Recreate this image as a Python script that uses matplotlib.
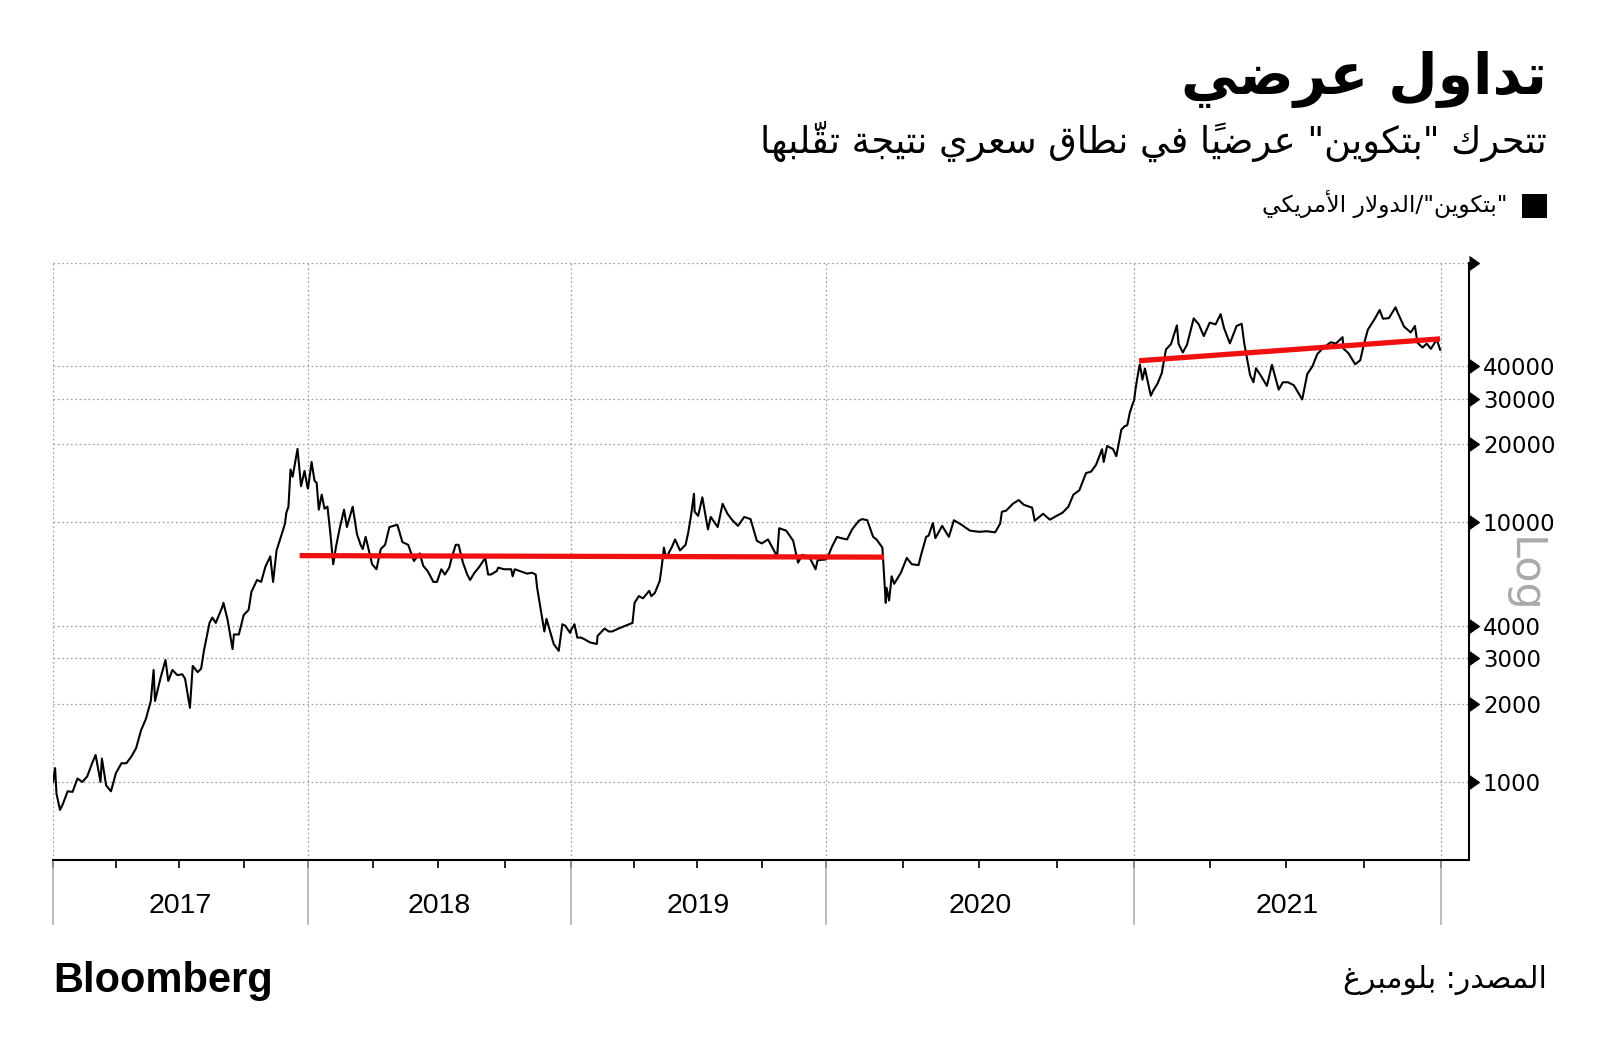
import numpy as np
import pandas as pd
import matplotlib
matplotlib.use("Agg")
import matplotlib.pyplot as plt
import matplotlib.dates as mdates
from matplotlib.ticker import FixedLocator, FixedFormatter, NullLocator, NullFormatter

# ---------------- data ----------------
dates_2017 = ["2017-01-01","2017-01-04","2017-01-06","2017-01-11","2017-01-15","2017-01-22","2017-01-29",
              "2017-02-05","2017-02-12","2017-02-19","2017-02-26","2017-03-03","2017-03-10","2017-03-12",
              "2017-03-18","2017-03-25","2017-04-01","2017-04-09","2017-04-16","2017-04-23","2017-04-30",
              "2017-05-07","2017-05-14","2017-05-21","2017-05-25","2017-05-27","2017-06-04","2017-06-11",
              "2017-06-15","2017-06-21","2017-06-28","2017-07-05","2017-07-09","2017-07-16","2017-07-20",
              "2017-07-27","2017-08-01","2017-08-05","2017-08-13","2017-08-17","2017-08-22","2017-08-31",
              "2017-09-02","2017-09-08","2017-09-15","2017-09-17","2017-09-24","2017-10-01","2017-10-08",
              "2017-10-12","2017-10-20","2017-10-26","2017-11-01","2017-11-08","2017-11-12","2017-11-17",
              "2017-11-26","2017-11-29","2017-12-01","2017-12-04","2017-12-07","2017-12-10","2017-12-17",
              "2017-12-22","2017-12-27","2017-12-31"]
prices_2017 = [998,1130,900,780,820,920,915,
               1030,1000,1050,1180,1270,1000,1230,
               970,920,1080,1180,1180,1250,1350,
               1580,1750,2050,2700,2050,2520,2950,
               2450,2700,2580,2600,2500,1930,2800,
               2650,2730,3200,4100,4300,4100,4700,
               4900,4200,3250,3700,3700,4400,4600,
               5400,6000,5900,6750,7400,5900,7800,
               9300,9900,10900,11500,16000,15000,19200,
               13800,15800,13800]

dates_2018 = ["2018-01-01","2018-01-06","2018-01-10","2018-01-13","2018-01-16","2018-01-20","2018-01-24",
              "2018-01-28","2018-02-01","2018-02-05","2018-02-09","2018-02-14","2018-02-20","2018-02-24",
              "2018-03-04","2018-03-10","2018-03-15","2018-03-18","2018-03-22","2018-03-31","2018-04-06",
              "2018-04-12","2018-04-18","2018-04-24","2018-05-05","2018-05-12","2018-05-20","2018-05-28",
              "2018-06-05","2018-06-10","2018-06-16","2018-06-24","2018-06-29","2018-07-05","2018-07-10",
              "2018-07-16","2018-07-20","2018-07-25","2018-07-29","2018-08-04","2018-08-10","2018-08-14",
              "2018-08-20","2018-08-26","2018-09-04","2018-09-08","2018-09-12","2018-09-20","2018-09-22",
              "2018-09-30","2018-10-10","2018-10-12","2018-10-15","2018-10-25","2018-11-01","2018-11-08",
              "2018-11-13","2018-11-15","2018-11-19","2018-11-25","2018-11-28","2018-12-03","2018-12-08",
              "2018-12-15","2018-12-20","2018-12-24","2018-12-28","2018-12-31"]
prices_2018 = [13500,17100,14500,14200,11200,12800,11300,
               11500,9100,6900,8100,9500,11200,9600,
               11500,9000,8200,7900,8800,6900,6600,
               7900,8200,9600,9800,8400,8200,7100,
               7600,6800,6500,5900,5900,6600,6300,
               6700,7400,8200,8200,7000,6300,6000,
               6400,6700,7300,6300,6300,6500,6700,
               6600,6600,6200,6600,6450,6350,6400,
               6300,5600,4800,3800,4250,3800,3400,
               3200,4050,4000,3850,3750]

dates_2019 = ["2019-01-01","2019-01-06","2019-01-10","2019-01-15","2019-01-20","2019-01-28","2019-02-07",
              "2019-02-08","2019-02-18","2019-02-24","2019-03-01","2019-03-10","2019-03-20","2019-03-30",
              "2019-04-02","2019-04-08","2019-04-14","2019-04-23","2019-04-26","2019-05-01","2019-05-08",
              "2019-05-11","2019-05-14","2019-05-17","2019-05-25","2019-05-30","2019-06-06","2019-06-14",
              "2019-06-18","2019-06-22","2019-06-26","2019-06-27","2019-07-02","2019-07-08","2019-07-16",
              "2019-07-20","2019-07-30","2019-08-06","2019-08-13","2019-08-20","2019-08-28","2019-09-06",
              "2019-09-15","2019-09-24","2019-10-01","2019-10-10","2019-10-23","2019-10-26","2019-11-05",
              "2019-11-15","2019-11-22","2019-11-28","2019-12-05","2019-12-10","2019-12-17","2019-12-20",
              "2019-12-31"]
prices_2019 = [3850,4050,3600,3600,3550,3450,3400,
               3650,3900,3800,3800,3900,4000,4100,
               4900,5200,5100,5450,5200,5350,5950,
               6800,8000,7300,8000,8600,7800,8200,
               9200,10700,12900,11000,10600,12500,9400,
               10500,9600,11800,10800,10200,9700,10500,
               10300,8500,8300,8600,7400,9500,9300,
               8500,7000,7500,7400,7200,6600,7150,
               7200]

dates_2020 = ["2020-01-01","2020-01-03","2020-01-08","2020-01-14","2020-01-19","2020-01-26","2020-02-01",
              "2020-02-09","2020-02-13","2020-02-19","2020-02-26","2020-03-01","2020-03-08","2020-03-12",
              "2020-03-13","2020-03-16","2020-03-19","2020-03-22","2020-03-30","2020-04-06","2020-04-12",
              "2020-04-20","2020-04-23","2020-04-29","2020-05-02","2020-05-07","2020-05-10","2020-05-18",
              "2020-05-26","2020-06-01","2020-06-10","2020-06-20","2020-07-01","2020-07-10","2020-07-20",
              "2020-07-26","2020-07-28","2020-08-02","2020-08-10","2020-08-17","2020-08-23","2020-09-02",
              "2020-09-05","2020-09-15","2020-09-23","2020-10-01","2020-10-08","2020-10-15","2020-10-21",
              "2020-10-28","2020-11-05","2020-11-11","2020-11-17","2020-11-24","2020-11-26","2020-11-30",
              "2020-12-07","2020-12-11","2020-12-17","2020-12-21","2020-12-24","2020-12-27","2020-12-31"]
prices_2020 = [7200,7350,8050,8800,8700,8600,9400,
               10150,10300,10200,8800,8600,8000,4900,
               5600,5000,6200,5800,6400,7300,6900,
               6850,7500,8800,8900,9950,8700,9700,
               8800,10200,9800,9300,9200,9250,9160,
               9900,11000,11100,11800,12200,11700,11400,
               10150,10800,10250,10600,10900,11500,12800,
               13300,15500,15700,16700,19150,17100,19700,
               19200,18000,22800,23500,23700,26500,29000]

dates_2021 = ["2021-01-01","2021-01-03","2021-01-07","2021-01-08","2021-01-11","2021-01-14","2021-01-21",
              "2021-01-24","2021-01-29","2021-02-03","2021-02-08","2021-02-14","2021-02-21","2021-02-23",
              "2021-02-28","2021-03-05","2021-03-13","2021-03-19","2021-03-25","2021-04-01","2021-04-08",
              "2021-04-14","2021-04-18","2021-04-25","2021-05-03","2021-05-09","2021-05-12","2021-05-19",
              "2021-05-23","2021-05-26","2021-06-01","2021-06-08","2021-06-14","2021-06-22","2021-06-27",
              "2021-07-03","2021-07-10","2021-07-20","2021-07-26","2021-08-01","2021-08-07","2021-08-14",
              "2021-08-23","2021-08-29","2021-09-06","2021-09-07","2021-09-13","2021-09-21","2021-09-27",
              "2021-10-01","2021-10-06","2021-10-15","2021-10-20","2021-10-24","2021-10-31","2021-11-08",
              "2021-11-10","2021-11-18","2021-11-26","2021-12-01","2021-12-04","2021-12-10","2021-12-15",
              "2021-12-20","2021-12-27","2021-12-31"]
prices_2021 = [29400,33000,39500,40600,35500,39200,30800,
               32300,34300,37600,46400,48700,57500,48800,
               45200,48400,61200,58000,52300,58900,58000,
               63500,56200,49000,57200,58300,49200,37000,
               34700,39300,36700,33600,40500,32500,34700,
               34700,33800,29800,37300,39900,44600,47100,
               49500,48900,51800,46800,44900,40700,42200,
               48200,55300,61500,65900,61000,61300,67500,
               64900,56900,54000,57200,49300,47200,48900,
               46700,50700,46300]

range1_dates = ["2017-12-20", "2020-03-10"]
range1_prices = [7450, 7350]
range2_dates = ["2021-01-07", "2021-12-31"]
range2_prices = [42000, 51000]

year_edges = ["2016-01-01","2017-01-01","2018-01-01","2019-01-01","2020-01-01","2021-01-01","2022-01-01","2023-01-01"]
year_edge_units = [-255, 0, 255, 518, 773, 1081, 1388, 1696]   # non-uniform year widths of the original axis
quarter_ticks = [f"{y}-{m:02d}-01" for y in range(2017, 2022) for m in (4, 7, 10)]
year_labels = ["2017", "2018", "2019", "2020", "2021"]
y_ticks = [1000, 2000, 3000, 4000, 10000, 20000, 30000, 40000, 100000]
y_tick_labels = ["1000", "2000", "3000", "4000", "10000", "20000", "30000", "40000", ""]

title_text = "تداول عرضي"
subtitle_text = 'تتحرك "بتكوين" عرضياً في نطاق سعري نتيجة تقلّبها'
legend_text = '"بتكوين"/الدولار الأمريكي'
source_text = "المصدر: بلومبرغ"

# ---------------- Arabic shaping ----------------
FORMS = {
    '\u0621': ('\uFE80',), '\u0622': ('\uFE81', '\uFE82'), '\u0623': ('\uFE83', '\uFE84'),
    '\u0624': ('\uFE85', '\uFE86'), '\u0625': ('\uFE87', '\uFE88'),
    '\u0626': ('\uFE89', '\uFE8A', '\uFE8B', '\uFE8C'), '\u0627': ('\uFE8D', '\uFE8E'),
    '\u0628': ('\uFE8F', '\uFE90', '\uFE91', '\uFE92'), '\u0629': ('\uFE93', '\uFE94'),
    '\u062A': ('\uFE95', '\uFE96', '\uFE97', '\uFE98'), '\u062B': ('\uFE99', '\uFE9A', '\uFE9B', '\uFE9C'),
    '\u062C': ('\uFE9D', '\uFE9E', '\uFE9F', '\uFEA0'), '\u062D': ('\uFEA1', '\uFEA2', '\uFEA3', '\uFEA4'),
    '\u062E': ('\uFEA5', '\uFEA6', '\uFEA7', '\uFEA8'), '\u062F': ('\uFEA9', '\uFEAA'),
    '\u0630': ('\uFEAB', '\uFEAC'), '\u0631': ('\uFEAD', '\uFEAE'), '\u0632': ('\uFEAF', '\uFEB0'),
    '\u0633': ('\uFEB1', '\uFEB2', '\uFEB3', '\uFEB4'), '\u0634': ('\uFEB5', '\uFEB6', '\uFEB7', '\uFEB8'),
    '\u0635': ('\uFEB9', '\uFEBA', '\uFEBB', '\uFEBC'), '\u0636': ('\uFEBD', '\uFEBE', '\uFEBF', '\uFEC0'),
    '\u0637': ('\uFEC1', '\uFEC2', '\uFEC3', '\uFEC4'), '\u0638': ('\uFEC5', '\uFEC6', '\uFEC7', '\uFEC8'),
    '\u0639': ('\uFEC9', '\uFECA', '\uFECB', '\uFECC'), '\u063A': ('\uFECD', '\uFECE', '\uFECF', '\uFED0'),
    '\u0641': ('\uFED1', '\uFED2', '\uFED3', '\uFED4'), '\u0642': ('\uFED5', '\uFED6', '\uFED7', '\uFED8'),
    '\u0643': ('\uFED9', '\uFEDA', '\uFEDB', '\uFEDC'), '\u0644': ('\uFEDD', '\uFEDE', '\uFEDF', '\uFEE0'),
    '\u0645': ('\uFEE1', '\uFEE2', '\uFEE3', '\uFEE4'), '\u0646': ('\uFEE5', '\uFEE6', '\uFEE7', '\uFEE8'),
    '\u0647': ('\uFEE9', '\uFEEA', '\uFEEB', '\uFEEC'), '\u0648': ('\uFEED', '\uFEEE'),
    '\u0649': ('\uFEEF', '\uFEF0'), '\u064A': ('\uFEF1', '\uFEF2', '\uFEF3', '\uFEF4'),
}
LAMALEF = {'\u0622': ('\uFEF5', '\uFEF6'), '\u0623': ('\uFEF7', '\uFEF8'),
           '\u0625': ('\uFEF9', '\uFEFA'), '\u0627': ('\uFEFB', '\uFEFC')}
MARKS = set(chr(c) for c in range(0x064B, 0x0660)) | {'\u0670'}


def shape_ar(text):
    chars = list(text)
    n = len(chars)

    def prev_base(i):
        j = i - 1
        while j >= 0 and chars[j] in MARKS:
            j -= 1
        return chars[j] if j >= 0 else None

    def next_base(i):
        j = i + 1
        while j < n and chars[j] in MARKS:
            j += 1
        return (chars[j], j) if j < n else (None, None)

    clusters, skip, i = [], set(), 0
    while i < n:
        c = chars[i]
        if c in MARKS:
            if clusters:
                clusters[-1].append(c)
            else:
                clusters.append([c])
            i += 1
            continue
        if i in skip:
            i += 1
            continue
        p = prev_base(i)
        joins_prev = p is not None and p in FORMS and len(FORMS[p]) == 4 and c in FORMS
        nx, nj = next_base(i)
        if c == '\u0644' and nx in LAMALEF:
            iso, fin = LAMALEF[nx]
            clusters.append([fin if joins_prev else iso])
            skip.add(nj)
            i += 1
            continue
        if c in FORMS:
            f = FORMS[c]
            joins_next = len(f) == 4 and nx is not None and nx in FORMS
            if joins_prev and joins_next:
                g = f[3]
            elif joins_next:
                g = f[2]
            elif joins_prev:
                g = f[1] if len(f) > 1 else f[0]
            else:
                g = f[0]
        else:
            g = c
        clusters.append([g])
        i += 1
    return ''.join(''.join(cl) for cl in reversed(clusters))


# ---------------- figure ----------------
W, H = 1600, 1058
fig = plt.figure(figsize=(16, 10.58), dpi=100)
fig.patch.set_facecolor("white")

def fx(px):
    return px / W

def fy(py):
    return 1 - py / H

ax_left, ax_right, ax_top, ax_bottom = 53, 1469, 263, 860
ax = fig.add_axes([fx(ax_left), fy(ax_bottom), (ax_right - ax_left) / W, (ax_bottom - ax_top) / H])

edge_num = mdates.date2num(pd.to_datetime(year_edges))
edge_u = np.array(year_edge_units, dtype=float)

def fwd(x):
    return np.interp(x, edge_num, edge_u)

def inv(u):
    return np.interp(u, edge_u, edge_num)

ax.set_xscale('function', functions=(fwd, inv))
ax.set_yscale('log')

all_dates = dates_2017 + dates_2018 + dates_2019 + dates_2020 + dates_2021
all_prices = prices_2017 + prices_2018 + prices_2019 + prices_2020 + prices_2021
xd = mdates.date2num(pd.to_datetime(all_dates))
ax.plot(xd, all_prices, color="black", lw=1.5, zorder=3)

ax.plot(mdates.date2num(pd.to_datetime(range1_dates)), range1_prices, color="#f01010", lw=3.8,
        solid_capstyle="butt", zorder=4)
ax.plot(mdates.date2num(pd.to_datetime(range2_dates)), range2_prices, color="#f01010", lw=3.8,
        solid_capstyle="butt", zorder=4)

ax.set_xlim(inv(0.0), inv(float(ax_right - ax_left)))
ax.set_ylim(500, 100000)

# x ticks
major_x = mdates.date2num(pd.to_datetime(year_edges[1:7]))
ax.xaxis.set_major_locator(FixedLocator(major_x))
ax.xaxis.set_major_formatter(NullFormatter())
ax.xaxis.set_minor_locator(FixedLocator(mdates.date2num(pd.to_datetime(quarter_ticks))))
ax.xaxis.set_minor_formatter(NullFormatter())
ax.tick_params(axis='x', which='both', direction='out', length=6, width=1.2, color='black')

# y ticks on the right
ax.yaxis.tick_right()
ax.yaxis.set_major_locator(FixedLocator(y_ticks))
ax.yaxis.set_major_formatter(FixedFormatter(y_tick_labels))
ax.yaxis.set_minor_locator(NullLocator())
ax.tick_params(axis='y', which='major', length=7, pad=3, labelsize=16.5, colors='black')

grid_kw = dict(color="#9a9a9a", linestyle=(0, (1.3, 2.2)), linewidth=0.9)
ax.grid(True, which='major', axis='both', **grid_kw)
ax.set_axisbelow(True)

for s in ("top", "left"):
    ax.spines[s].set_visible(False)
for s in ("bottom", "right"):
    ax.spines[s].set_linewidth(1.5)
    ax.spines[s].set_color("black")

# year separator lines below the axis
below = (924 - ax_bottom) / (ax_bottom - ax_top)
for xv in major_x:
    ax.axvline(xv, ymin=-below, ymax=0, color="#a8a8a8", lw=1.1, clip_on=False)

# year labels
year_mid = [mdates.date2num(pd.Timestamp(f"{y}-07-02")) for y in year_labels]
label_y = -(906 - ax_bottom) / (ax_bottom - ax_top)
for xm, lab in zip(year_mid, year_labels):
    ax.text(xm, label_y, lab, transform=ax.get_xaxis_transform(), ha='center', va='center',
            fontsize=20.5, family=['Liberation Sans', 'DejaVu Sans'], color='black')

# caret ticks on the right axis
for t in ax.yaxis.get_major_ticks():
    t.tick2line.set_marker(9)
    t.tick2line.set_markersize(10)
    t.tick2line.set_color('black')

# "Log" watermark
fig.text(fx(1524), fy(575), "Log", rotation=270, ha='center', va='center', fontsize=31,
         color="#aaaaaa", family='DejaVu Sans')

# texts
AR = ['DejaVu Sans']
fig.text(fx(1547), fy(94), shape_ar(title_text), ha='right', va='baseline', fontsize=41,
         fontweight='bold', family=AR, color='black')
fig.text(fx(1547), fy(153), shape_ar(subtitle_text), ha='right', va='baseline', fontsize=26.5,
         family=AR, color='black')
fig.text(fx(1508), fy(212), shape_ar(legend_text), ha='right', va='baseline', fontsize=16.8,
         family=AR, color='black')
fig.patches.append(matplotlib.patches.Rectangle((fx(1522), fy(218)), 25 / W, 24 / H,
                                                transform=fig.transFigure, facecolor='black',
                                                edgecolor='none'))
fig.text(fx(1547), fy(988), shape_ar(source_text), ha='right', va='baseline', fontsize=21.5,
         family=AR, color='black')
fig.text(fx(53), fy(992), "Bloomberg", ha='left', va='baseline', fontsize=30, fontweight='bold',
         family=['Liberation Sans', 'DejaVu Sans'], color='black')

fig.savefig("out.png", dpi=100, facecolor='white')
